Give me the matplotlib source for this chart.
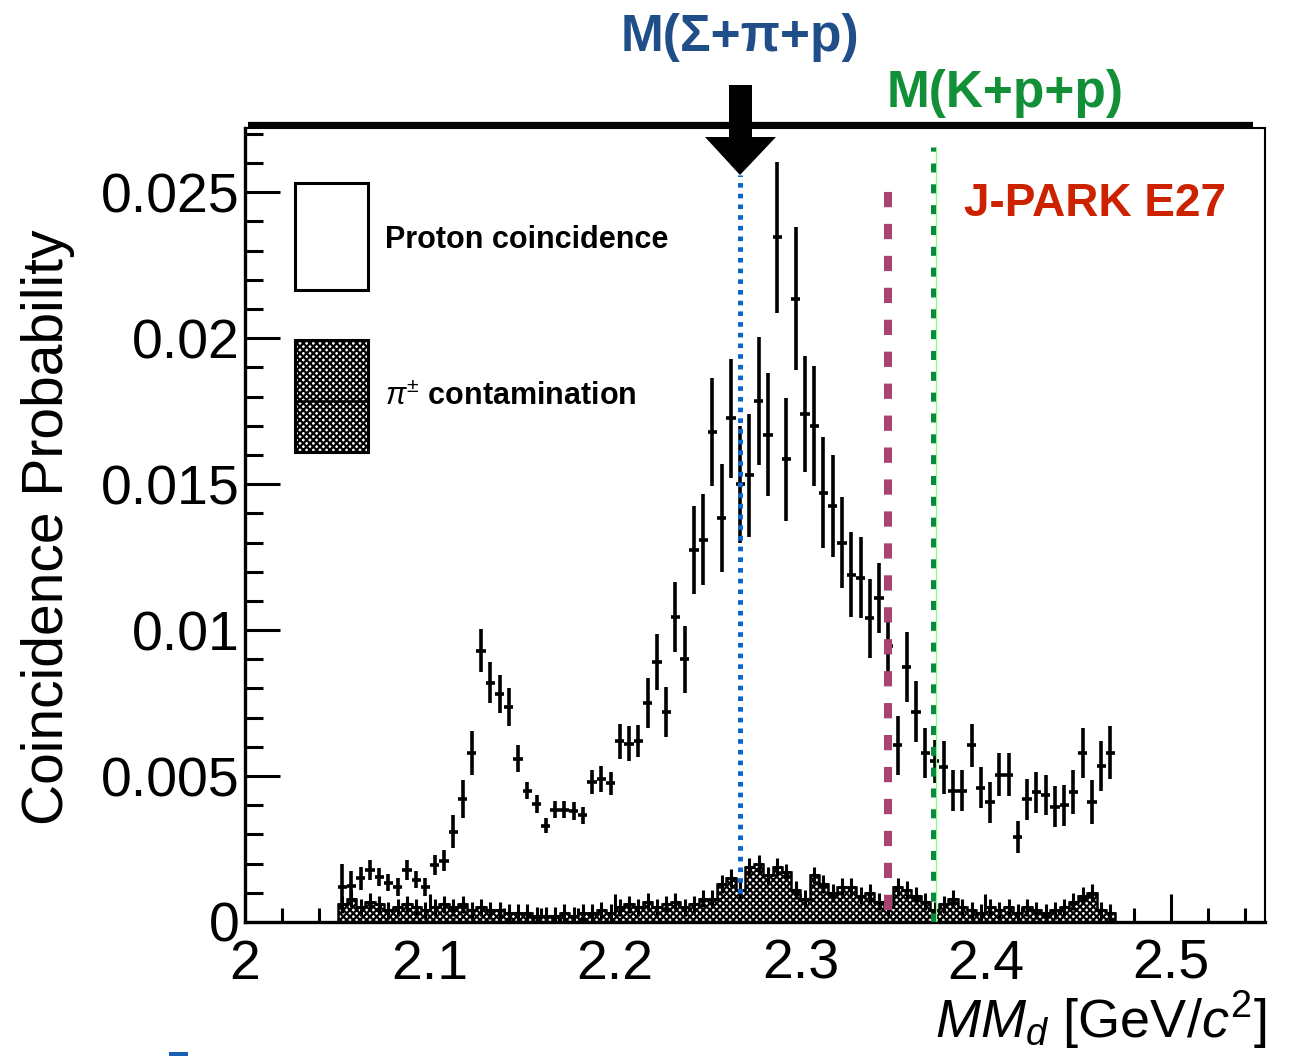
import numpy as np
import matplotlib
matplotlib.use("Agg")
import matplotlib.pyplot as plt
from matplotlib.ticker import MultipleLocator, FuncFormatter
from matplotlib.patches import Rectangle, Polygon
from matplotlib.lines import Line2D

# ---------------------------------------------------------------- data
# missing-mass histogram: 5 MeV bins from 2.05 to 2.47 GeV/c^2
bin_start = 2.05
bin_width = 0.005

# proton coincidence probability (x 1e-3) and its statistical errors
proton = [1.2, 1.25, 1.5, 1.78, 1.55, 1.35, 1.2, 1.78, 1.45, 1.2,
          1.95, 2.1, 3.1, 4.2, 5.8, 9.3, 8.2, 7.8, 7.35, 5.6,
          4.5, 4.05, 3.3, 3.85, 3.85, 3.8, 3.65, 4.8, 4.9, 4.75,
          6.2, 6.1, 6.2, 7.5, 8.9, 7.2, 10.45, 9.0, 12.75, 13.1,
          16.8, 13.85, 17.25, 15.0, 15.3, 17.85, 16.7, 23.45, 15.85, 21.35,
          17.4, 17.0, 14.7, 14.25, 13.0, 11.9, 11.8, 10.4, 11.1, 9.45,
          6.05, 8.75, 7.2, 5.8, 5.5, 5.3, 4.5, 4.5, 6.05, 4.6,
          4.1, 5.05, 5.05, 2.9, 4.2, 4.45, 4.35, 3.95, 4.0, 4.45,
          5.8, 4.1, 5.35, 5.8]
proton_err = [0.8, 0.5, 0.4, 0.35, 0.3, 0.3, 0.3, 0.35, 0.3, 0.3,
              0.35, 0.35, 0.55, 0.65, 0.75, 0.75, 0.7, 0.65, 0.65, 0.45,
              0.3, 0.3, 0.25, 0.3, 0.3, 0.3, 0.3, 0.4, 0.45, 0.4,
              0.6, 0.6, 0.55, 0.85, 0.95, 0.85, 1.2, 1.15, 1.5, 1.55,
              1.85, 1.85, 2.05, 2.0, 2.1, 2.2, 2.1, 2.6, 2.1, 2.45,
              2.0, 2.05, 1.9, 1.75, 1.55, 1.45, 1.4, 1.35, 1.2, 1.2,
              1.0, 1.2, 1.05, 0.85, 0.75, 0.9, 0.7, 0.7, 0.75, 0.7,
              0.7, 0.75, 0.75, 0.55, 0.7, 0.7, 0.7, 0.7, 0.7, 0.75,
              0.85, 0.75, 0.85, 0.9]

# pi+- contamination (x 1e-3) and errors
pion = [0.6, 0.8, 0.5, 0.7, 0.6, 0.4, 0.5, 0.6, 0.5, 0.4,
        0.5, 0.6, 0.5, 0.6, 0.4, 0.5, 0.4, 0.4, 0.3, 0.3,
        0.3, 0.2, 0.2, 0.2, 0.3, 0.2, 0.3, 0.3, 0.4, 0.3,
        0.5, 0.6, 0.5, 0.7, 0.5, 0.6, 0.7, 0.5, 0.6, 0.8,
        0.8, 1.3, 1.5, 1.1, 1.9, 2.0, 1.6, 1.9, 1.7, 1.1,
        0.8, 1.6, 1.3, 1.0, 1.2, 1.2, 0.9, 1.0, 0.7, 0.5,
        1.2, 1.1, 0.9, 0.7, 0.4, 0.6, 0.8, 0.5, 0.4, 0.3,
        0.5, 0.4, 0.5, 0.3, 0.5, 0.4, 0.3, 0.4, 0.5, 0.7,
        0.9, 1.0, 0.4, 0.3]
pion_err = [0.3] * len(pion)

# reference thresholds (GeV/c^2)
m_sigma_pi_p = 2.2676
m_e27 = 2.3476
m_k_p_p = 2.3714

x_ticks = [2.0, 2.1, 2.2, 2.3, 2.4, 2.5]
y_ticks = [0.0, 0.005, 0.01, 0.015, 0.02, 0.025]

# ---------------------------------------------------------------- style
plt.rcParams["font.family"] = ["Liberation Sans Narrow", "Liberation Sans", "DejaVu Sans"]
plt.rcParams["mathtext.fontset"] = "custom"
plt.rcParams["mathtext.rm"] = "Liberation Sans"
plt.rcParams["mathtext.it"] = "Liberation Sans:italic"
plt.rcParams["mathtext.bf"] = "Liberation Sans:bold"
plt.rcParams["hatch.linewidth"] = 1.6
plt.rcParams["lines.scale_dashes"] = False

W, H = 1295, 1056
fig = plt.figure(figsize=(W / 100, H / 100), dpi=100)
fig.patch.set_facecolor("white")

def fx(px):
    return px / W

def fy(py):
    return 1 - py / H

ax = fig.add_axes([fx(245), fy(922), fx(1265) - fx(245), fy(128) - fy(922)])

n = len(proton)
edges = bin_start + bin_width * np.arange(n + 1)
centers = 0.5 * (edges[:-1] + edges[1:])
p_val = np.asarray(proton) * 1e-3
p_err = np.asarray(proton_err) * 1e-3
pi_val = np.asarray(pion) * 1e-3
pi_err = np.asarray(pion_err) * 1e-3

# hatched pion contamination histogram
ax.bar(centers, pi_val, width=bin_width, facecolor="white", edgecolor="black",
       hatch="xxxxx", linewidth=0, zorder=2)
ax.stairs(pi_val, edges, color="black", linewidth=1.8, zorder=3)
ax.errorbar(centers, pi_val, yerr=pi_err, xerr=bin_width / 2, fmt="none",
            ecolor="black", elinewidth=2.2, capsize=0, zorder=3)

# proton coincidence points with error bars
ax.errorbar(centers, p_val, yerr=p_err, xerr=bin_width / 2, fmt="none",
            ecolor="black", elinewidth=2.6, capsize=0, zorder=4)

# threshold lines
ax.plot([m_sigma_pi_p] * 2, [0.0010, 0.02558], color="#0a66cc", lw=3.6,
        dashes=(3.3, 4.4), zorder=6)
ax.plot([m_e27] * 2, [0.0004, 0.02514], color="#a8456e", lw=5.8,
        dashes=(11, 12), zorder=6)
ax.plot([m_k_p_p + 0.0017] * 2, [0.0, 0.02654], color="#7dff7d", lw=0.9, zorder=5)
ax.plot([m_k_p_p] * 2, [0.0, 0.02654], color="#0a8a3c", lw=3.6,
        dashes=(6.5, 8.5), zorder=6)

ax.set_xlim(2.0, 2.551)
ax.set_ylim(0.0, 0.0272)
ax.xaxis.set_major_locator(MultipleLocator(0.1))
ax.xaxis.set_minor_locator(MultipleLocator(0.02))
ax.yaxis.set_major_locator(MultipleLocator(0.005))
ax.yaxis.set_minor_locator(MultipleLocator(0.001))
ax.set_xticks(x_ticks)
ax.set_yticks(y_ticks)
ax.xaxis.set_major_formatter(FuncFormatter(lambda v, p: f"{v:g}"))
ax.yaxis.set_major_formatter(FuncFormatter(lambda v, p: "0" if abs(v) < 1e-9 else f"{v:g}"))

ax.tick_params(axis="y", which="major", direction="in", length=25, width=2.2,
               labelsize=40, pad=4)
ax.tick_params(axis="y", which="minor", direction="in", length=13, width=2.2)
ax.tick_params(axis="x", which="major", direction="in", length=20, width=2.2,
               labelsize=40, pad=12)
ax.tick_params(axis="x", which="minor", direction="in", length=10, width=2.2)

for side in ("left", "bottom"):
    ax.spines[side].set_linewidth(2.4)
for side in ("top", "right"):
    ax.spines[side].set_linewidth(1.5)

# legend boxes
ax.add_patch(Rectangle((0.049, 0.796), 0.0716, 0.1347, transform=ax.transAxes,
                       facecolor="white", edgecolor="black", lw=2.2, zorder=7))
ax.add_patch(Rectangle((0.049, 0.592), 0.0716, 0.141, transform=ax.transAxes,
                       facecolor="white", edgecolor="black", hatch="xxxxx",
                       lw=2.2, zorder=7))
ax.plot([0.049, 0.1206], [0.656, 0.656], transform=ax.transAxes, color="black",
        lw=1.8, zorder=8)
ax.text(0.137, 0.859, "Proton coincidence", transform=ax.transAxes,
        fontsize=22, fontweight="bold", family=["Liberation Sans"],
        ha="left", va="center", zorder=8)
ax.text(0.137, 0.661, r"$\pi^{\pm}$ contamination", transform=ax.transAxes,
        fontsize=22, fontweight="bold", family=["Liberation Sans"],
        ha="left", va="center", zorder=8)

# axis titles
fig.text(fx(48), fy(527), "Coincidence Probability", rotation=90,
         fontsize=41, family=["Liberation Sans"], ha="center", va="center")
fig.text(fx(1266), fy(1020), r"$MM_{d}$ [GeV/$c^{2}$]", fontsize=39,
         family=["Liberation Sans"], ha="right", va="center")

# frame top bar
fig.add_artist(Line2D([fx(248), fx(1253)], [fy(125), fy(125)], color="black",
                      lw=4.5, solid_capstyle="butt"))

# arrow marking the Sigma-pi-p threshold
arrow_px = [(729, 85), (752, 85), (752, 137), (776, 137), (740, 175),
            (705, 137), (729, 137)]
fig.add_artist(Polygon([(fx(a), fy(b)) for a, b in arrow_px], closed=True,
                       transform=fig.transFigure, facecolor="black",
                       edgecolor="black", lw=0))

# annotations
title_font = ["Liberation Sans", "DejaVu Sans"]
fig.text(fx(740), fy(38), "M(Σ+π+p)", color="#1f4e89", fontsize=37,
         fontweight="bold", family=title_font, ha="center", va="center")
fig.text(fx(1005), fy(93), "M(K+p+p)", color="#129038", fontsize=37,
         fontweight="bold", family=title_font, ha="center", va="center")
fig.text(fx(1095), fy(204), "J-PARK E27", color="#cc2200", fontsize=33,
         fontweight="bold", family=title_font, ha="center", va="center")

fig.add_artist(Rectangle((fx(169), 0), fx(19), 4 / H, transform=fig.transFigure,
                         facecolor="#1a5fb4", edgecolor="none"))

fig.savefig("out.png", dpi=100, facecolor="white")
